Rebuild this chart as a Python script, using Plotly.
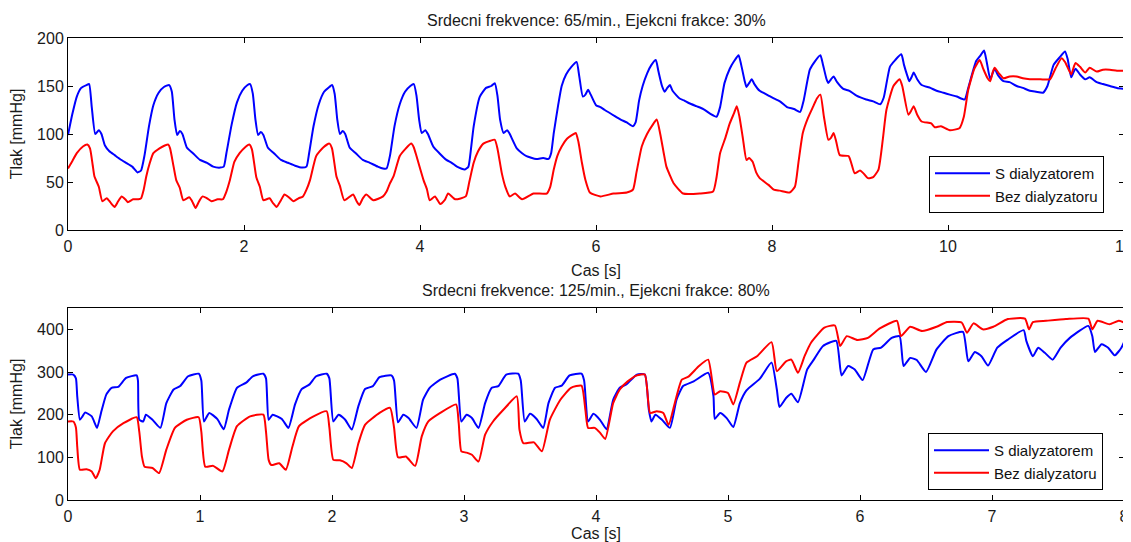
import plotly.graph_objects as go
from plotly.subplots import make_subplots

# ---------------- Top panel: 65/min, EF 30 % ----------------
top_t_blue = [0.00,0.05,0.10,0.15,0.21,0.24,0.27,0.31,0.35,0.38,0.42,0.47,0.53,0.59,0.66,0.73,0.79,0.83,0.87,0.92,
 0.97,1.03,1.09,1.15,1.18,1.21,1.24,1.27,1.30,1.35,1.42,1.50,1.58,1.65,1.73,1.77,1.80,1.86,1.92,1.98,
 2.04,2.07,2.10,2.13,2.16,2.19,2.22,2.27,2.34,2.42,2.50,2.58,2.66,2.71,2.74,2.79,2.85,2.91,2.97,3.00,
 3.03,3.06,3.09,3.12,3.15,3.20,3.27,3.35,3.43,3.52,3.58,3.62,3.66,3.71,3.77,3.83,3.89,3.93,3.96,3.99,
 4.02,4.06,4.09,4.15,4.22,4.30,4.36,4.42,4.51,4.55,4.58,4.61,4.68,4.75,4.81,4.85,4.88,4.91,4.95,4.99,
 5.02,5.10,5.16,5.21,5.32,5.40,5.46,5.49,5.52,5.57,5.61,5.66,5.72,5.78,5.81,5.85,5.88,5.91,5.94,6.00,
 6.05,6.10,6.19,6.28,6.35,6.42,6.45,6.49,6.53,6.58,6.63,6.68,6.71,6.75,6.78,6.81,6.84,6.87,6.95,7.00,
 7.06,7.14,7.22,7.30,7.37,7.41,7.46,7.52,7.57,7.62,7.65,7.69,7.71,7.74,7.77,7.80,7.86,7.90,7.96,8.02,
 8.09,8.17,8.25,8.32,8.36,8.43,8.49,8.55,8.58,8.62,8.64,8.67,8.70,8.74,8.81,8.88,8.96,9.07,9.15,9.23,
 9.27,9.34,9.40,9.47,9.50,9.54,9.56,9.59,9.61,9.65,9.70,9.80,9.87,9.95,10.02,10.10,10.19,10.23,10.32,10.37,
 10.41,10.44,10.48,10.51,10.53,10.57,10.63,10.70,10.78,10.85,10.93,11.00,11.08,11.13,11.20,11.27,11.33,11.36,11.40,11.43,
 11.45,11.50,11.56,11.61,11.69,11.76,11.84,11.92,12.00]
top_blue = [99,121,139,148,151,152,128,100,104,100,88,82,78,74,70,66,60,62,78,108,
 130,143,149,151,144,115,99,103,100,86,80,73,70,66,65,66,80,110,133,145,
 151,152,142,115,99,102,99,86,80,73,70,67,65,66,80,108,131,144,149,151,
 142,115,100,103,100,86,80,73,70,66,64,64,78,108,131,144,150,152,140,115,
 101,104,100,87,80,73,70,66,63,66,85,108,139,148,150,153,140,115,101,104,
 100,85,80,77,74,75,74,80,101,130,150,162,170,175,160,139,141,146,141,130,
 128,125,120,115,112,108,112,135,150,163,172,177,165,150,144,148,151,145,137,135,
 132,129,126,121,118,128,153,168,176,182,172,155,149,153,157,152,145,143,140,137,
 134,128,126,123,135,167,176,182,172,157,153,157,160,154,147,145,140,136,134,131,
 138,170,177,183,172,160,155,160,164,157,151,148,145,143,141,139,136,148,176,182,
 187,175,157,164,168,161,155,154,150,148,145,144,143,150,172,180,186,178,159,165,
 168,162,157,159,154,152,150,148,147]

top_t_red = [0.00,0.05,0.10,0.17,0.22,0.25,0.28,0.30,0.35,0.39,0.44,0.48,0.53,0.57,0.61,0.65,0.68,0.74,0.80,0.83,
 0.86,0.89,0.93,0.97,1.04,1.10,1.14,1.16,1.20,1.23,1.27,1.31,1.38,1.41,1.45,1.49,1.53,1.58,1.63,1.70,
 1.76,1.80,1.84,1.89,1.95,2.01,2.06,2.09,2.14,2.18,2.22,2.29,2.33,2.37,2.42,2.46,2.51,2.56,2.62,2.67,
 2.71,2.75,2.82,2.90,2.97,3.00,3.05,3.09,3.14,3.24,3.28,3.31,3.35,3.39,3.47,3.58,3.62,3.66,3.70,3.77,
 3.84,3.90,3.93,3.96,4.04,4.08,4.11,4.17,4.23,4.28,4.32,4.40,4.52,4.56,4.61,4.66,4.72,4.80,4.85,4.88,
 4.93,4.97,5.02,5.08,5.16,5.29,5.44,5.48,5.52,5.56,5.61,5.67,5.73,5.77,5.80,5.84,5.88,5.93,6.05,6.20,
 6.35,6.42,6.46,6.52,6.58,6.64,6.69,6.73,6.77,6.80,6.84,6.88,6.99,7.18,7.33,7.37,7.41,7.47,7.52,7.57,
 7.60,7.63,7.67,7.71,7.74,7.78,7.82,7.86,7.96,8.02,8.09,8.20,8.26,8.30,8.35,8.41,8.47,8.51,8.55,8.59,
 8.64,8.67,8.70,8.73,8.77,8.87,8.90,8.94,9.00,9.04,9.09,9.15,9.21,9.26,9.30,9.38,9.45,9.48,9.55,9.58,
 9.61,9.65,9.70,9.81,9.85,9.92,10.02,10.13,10.18,10.23,10.30,10.36,10.40,10.45,10.48,10.51,10.53,10.58,10.63,10.70,
 10.78,10.85,10.93,11.05,11.16,11.22,11.29,11.33,11.40,11.43,11.45,11.50,11.56,11.61,11.69,11.76,11.84,11.92,12.00]
top_red = [64,72,80,87,89,85,68,56,45,30,33,29,24,30,35,32,29,32,32,33,
 42,56,70,80,85,88,89,85,66,52,44,31,34,30,23,30,35,33,30,32,
 32,40,52,71,80,86,89,84,55,45,31,33,28,24,31,37,34,30,33,35,
 42,52,77,86,90,85,56,46,31,37,30,26,33,37,31,35,40,49,56,77,
 85,90,86,77,52,42,31,35,27,31,38,32,35,50,70,82,90,93,94,85,
 59,45,35,38,32,38,38,45,63,77,87,95,99,101,92,70,52,39,35,38,
 39,42,60,87,100,109,115,100,80,66,57,49,38,38,40,55,80,96,111,122,
 129,118,95,73,75,71,60,54,47,42,41,39,45,70,101,117,129,137,141,118,
 94,96,101,92,78,77,70,59,62,59,54,55,63,95,125,150,157,150,120,124,
 129,120,113,111,107,108,104,106,118,146,168,177,168,158,155,165,169,163,158,160,
 160,158,157,157,157,168,179,175,162,170,174,170,164,169,165,167,167,166,166]

# ---------------- Bottom panel: 125/min, EF 80 % ----------------
bot_t_blue = [0.00,0.04,0.06,0.07,0.09,0.11,0.13,0.18,0.22,0.25,0.29,0.33,0.38,0.44,0.52,0.53,0.54,0.57,0.59,0.64,
 0.70,0.745,0.80,0.85,0.91,0.99,1.01,1.03,1.07,1.13,1.18,1.22,1.28,1.35,1.40,1.48,1.50,1.52,1.55,1.62,
 1.67,1.72,1.77,1.83,1.88,1.96,1.98,2.01,2.05,2.10,2.15,2.20,2.25,2.31,2.36,2.45,2.47,2.50,2.54,2.58,
 2.64,2.69,2.74,2.82,2.93,2.95,2.98,3.02,3.06,3.11,3.16,3.21,3.26,3.32,3.41,3.43,3.46,3.50,3.55,3.60,
 3.64,3.69,3.74,3.80,3.89,3.91,3.94,3.98,4.03,4.08,4.13,4.18,4.23,4.31,4.37,4.40,4.42,4.45,4.50,4.56,
 4.61,4.66,4.74,4.85,4.89,4.90,4.94,4.99,5.04,5.09,5.14,5.24,5.33,5.37,5.39,5.44,5.48,5.53,5.60,5.65,
 5.72,5.82,5.86,5.91,5.96,6.02,6.10,6.16,6.24,6.30,6.33,6.38,6.43,6.50,6.58,6.67,6.78,6.82,6.87,6.92,
 6.97,7.04,7.12,7.24,7.26,7.31,7.35,7.40,7.46,7.52,7.59,7.73,7.76,7.78,7.83,7.88,7.93,7.98,8.00]
bot_blue = [294,294,285,243,188,196,205,196,169,204,247,263,265,286,292,280,188,184,200,188,
 169,227,259,267,290,296,280,184,204,190,166,212,263,275,290,296,285,188,200,190,
 169,224,260,271,290,296,285,184,200,188,165,220,260,267,288,292,280,182,200,192,
 169,235,263,282,296,285,184,200,192,169,227,263,267,294,296,280,184,202,190,169,
 227,263,268,292,296,280,184,202,188,166,235,263,271,294,294,212,184,200,188,169,
 235,267,278,298,243,190,204,192,171,227,257,284,322,259,218,239,249,229,306,329,
 361,373,292,314,306,281,353,357,380,384,314,333,328,300,353,384,394,325,347,337,
 315,357,376,398,373,337,357,345,329,357,380,408,384,347,365,357,339,357,370]

bot_t_red = [0.00,0.04,0.06,0.07,0.09,0.14,0.18,0.21,0.24,0.28,0.34,0.42,0.52,0.54,0.56,0.58,0.64,0.69,0.745,0.81,
 0.90,0.99,1.01,1.04,1.10,1.17,1.22,1.28,1.38,1.48,1.50,1.52,1.54,1.60,1.65,1.70,1.75,1.86,1.96,1.98,
 2.01,2.06,2.11,2.15,2.20,2.25,2.36,2.44,2.47,2.50,2.56,2.63,2.68,2.73,2.82,2.94,2.96,2.98,3.02,3.06,
 3.11,3.16,3.22,3.30,3.40,3.42,3.45,3.53,3.59,3.65,3.73,3.81,3.89,3.92,3.94,3.99,4.03,4.07,4.13,4.18,
 4.24,4.31,4.37,4.41,4.46,4.51,4.55,4.60,4.65,4.70,4.78,4.85,4.90,4.94,5.00,5.04,5.09,5.14,5.22,5.33,
 5.37,5.44,5.48,5.53,5.58,5.63,5.73,5.81,5.85,5.90,5.98,6.06,6.15,6.28,6.31,6.38,6.47,6.58,6.66,6.77,
 6.81,6.86,6.93,7.01,7.12,7.25,7.28,7.31,7.41,7.56,7.73,7.76,7.80,7.89,7.96,8.00]
bot_red = [184,184,170,125,71,72,67,51,71,133,161,180,194,160,102,78,75,63,118,169,
 188,194,160,78,80,67,118,173,196,200,160,94,82,86,71,125,173,196,208,170,
 94,93,86,75,133,176,204,216,170,100,102,80,149,184,204,224,180,114,111,106,
 90,153,184,212,243,165,133,135,114,188,235,263,268,210,169,169,158,143,227,259,
 278,292,294,204,208,204,176,231,282,289,314,329,247,255,251,224,275,322,337,370,
 302,325,329,298,337,369,404,409,361,384,375,380,402,420,384,406,396,406,417,416,
 392,414,400,406,424,425,400,417,420,424,425,400,420,412,420,416]

titles = ["Srdecni frekvence: 65/min., Ejekcni frakce: 30%",
          "Srdecni frekvence: 125/min., Ejekcni frakce: 80%"]
series_names = ["S dialyzatorem", "Bez dialyzatoru"]
top_x_ticks = [0, 2, 4, 6, 8, 10, 12]
top_y_ticks = [0, 50, 100, 150, 200]
bot_x_ticks = [0, 1, 2, 3, 4, 5, 6, 7, 8]
bot_y_ticks = [0, 100, 200, 300, 400]

FONT = "Liberation Sans, Arial, sans-serif"
FS = 16
TXT = "#1a1a1a"
BLUE = "#0000FF"
RED = "#FF0000"

fig = make_subplots(rows=2, cols=1)

line_kw = dict(width=2, shape="spline", smoothing=0.5)
fig.add_trace(go.Scatter(x=top_t_blue, y=top_blue, mode="lines", name=series_names[0],
                         line=dict(color=BLUE, **line_kw), legend="legend"), row=1, col=1)
fig.add_trace(go.Scatter(x=top_t_red, y=top_red, mode="lines", name=series_names[1],
                         line=dict(color=RED, **line_kw), legend="legend"), row=1, col=1)
fig.add_trace(go.Scatter(x=bot_t_blue, y=bot_blue, mode="lines", name=series_names[0],
                         line=dict(color=BLUE, **line_kw), legend="legend2"), row=2, col=1)
fig.add_trace(go.Scatter(x=bot_t_red, y=bot_red, mode="lines", name=series_names[1],
                         line=dict(color=RED, **line_kw), legend="legend2"), row=2, col=1)

axis_common = dict(showline=True, linecolor="black", linewidth=1, mirror="allticks",
                   ticks="inside", ticklen=5, tickcolor="black", showgrid=False, zeroline=False,
                   tickfont=dict(family=FONT, size=FS, color=TXT), automargin=False,
                   ticklabeloverflow="allow")

top_dom = [(500 - 230) / 462, 1.0]
bot_dom = [0.0, (500 - 308) / 462]

fig.update_xaxes(axis_common)
fig.update_yaxes(axis_common)
fig.update_xaxes(ticklabelstandoff=2)
fig.update_xaxes(range=[0, 12], tickvals=top_x_ticks, row=1, col=1,
                 title=dict(text="Cas [s]", font=dict(family=FONT, size=FS, color=TXT), standoff=10))
fig.update_xaxes(range=[0, 8], tickvals=bot_x_ticks, row=2, col=1,
                 title=dict(text="Cas [s]", font=dict(family=FONT, size=FS, color=TXT), standoff=10))
fig.update_yaxes(range=[0, 200], tickvals=top_y_ticks, domain=top_dom, row=1, col=1,
                 title=dict(text="Tlak [mmHg]", font=dict(family=FONT, size=FS, color=TXT), standoff=12))
fig.update_yaxes(range=[0, 450], tickvals=bot_y_ticks, domain=bot_dom, row=2, col=1,
                 title=dict(text="Tlak [mmHg]", font=dict(family=FONT, size=FS, color=TXT), standoff=12))

fig.add_annotation(text=titles[0], xref="paper", yref="paper", x=0.5, y=1.0, yshift=7,
                   xanchor="center", yanchor="bottom", showarrow=False,
                   font=dict(family=FONT, size=FS, color=TXT))
fig.add_annotation(text=titles[1], xref="paper", yref="paper", x=0.5, y=bot_dom[1], yshift=7,
                   xanchor="center", yanchor="bottom", showarrow=False,
                   font=dict(family=FONT, size=FS, color=TXT))

legend_common = dict(bgcolor="white", bordercolor="black", borderwidth=1,
                     font=dict(family=FONT, size=15, color="#111"),
                     xanchor="right", yanchor="top", itemwidth=55, tracegroupgap=0)
# page body has an 8 px default margin, so the figure is 8 px smaller than the window
fig.update_layout(
    width=1123, height=534,
    margin=dict(l=60, r=7, t=30, b=42),
    paper_bgcolor="white", plot_bgcolor="white",
    showlegend=True,
    legend=dict(legend_common, x=(1104 - 68) / 1056, y=(500 - 156) / 462),
    legend2=dict(legend_common, x=(1103 - 68) / 1056, y=(500 - 433) / 462),
)

fig.write_html("out.html")
